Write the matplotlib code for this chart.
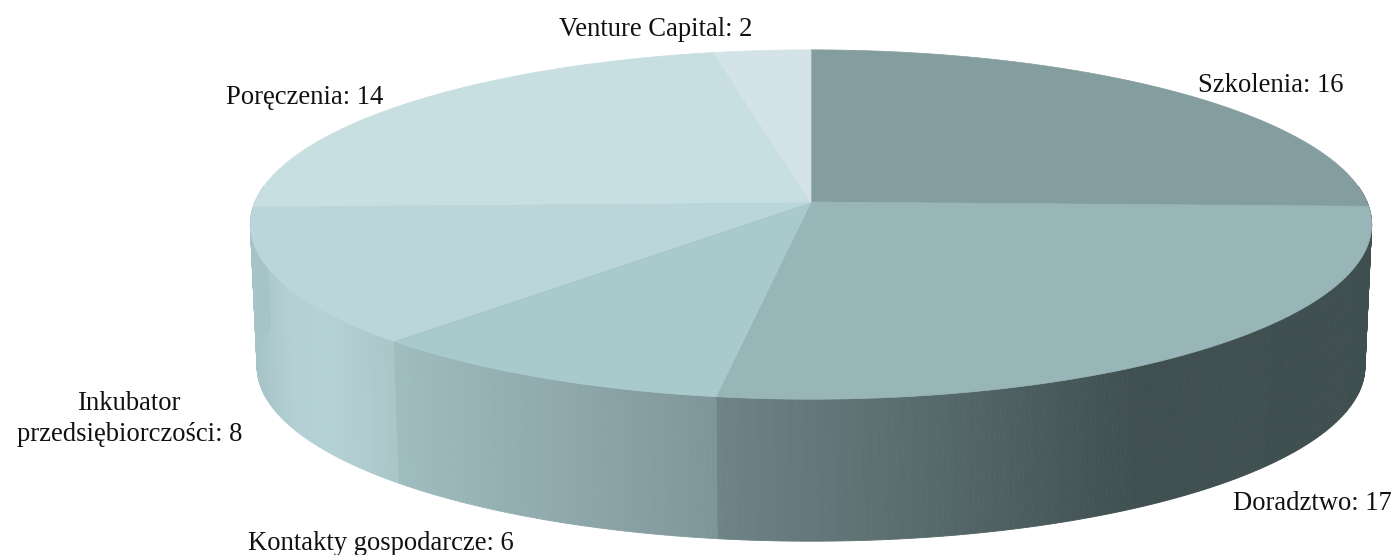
import numpy as np
import matplotlib
matplotlib.use("Agg")
import matplotlib.pyplot as plt
from matplotlib.colors import to_rgb

categories = ["Szkolenia", "Doradztwo", "Kontakty gospodarcze",
              "Inkubator\nprzedsiębiorczości", "Poręczenia", "Venture Capital"]
values = [16, 17, 6, 8, 14, 2]
top_colors = ["#849D9F", "#98B5B8", "#A9CACD", "#BAD6DB", "#C8DFE2", "#D3E3E8"]

# side shading: (pixel x, colour) stops per slice
side_stops = [
    [(0, "#3F4E4F"), (1400, "#3F4E4F")],
    [(716, "#6E8486"), (1000, "#4F6163"), (1140, "#404F50"), (1400, "#3F4E4F")],
    [(390, "#A0BDC0"), (716, "#7F9699")],
    [(250, "#A6C3C7"), (290, "#B3D0D4"), (330, "#B4D1D5"), (390, "#AAC6C9")],
    [(0, "#A6C3C7"), (1400, "#A6C3C7")],
    [(0, "#A6C3C7"), (1400, "#A6C3C7")],
]

label_pos = [(1198, 83, "left"), (1233, 502, "left"), (248, 541, "left"),
             (130, 417, "center"), (226, 95, "left"), (656, 28, "center")]

CX, CY = 811, 202
W, A, C = 556, -145.7, 0.129
DEPTH, BOT_SCALE = 142, 0.988


def project(theta, bottom=False):
    x, y = np.sin(theta), np.cos(theta)
    den = 1 + C * y
    px, py = W * x / den, (CY + A * y) / den
    if bottom:
        return CX + px * BOT_SCALE, py + DEPTH
    return CX + px, py


def mix(stops, x):
    xs = [s[0] for s in stops]
    rgb = np.array([to_rgb(s[1]) for s in stops])
    return [float(np.interp(x, xs, rgb[:, i])) for i in range(3)]


fig = plt.figure(figsize=(13.96, 5.55), dpi=100)
ax = fig.add_axes([0, 0, 1, 1])
ax.set_xlim(0, 1396)
ax.set_ylim(555, 0)
ax.axis("off")

edges = np.concatenate([[0], np.cumsum(values)]) / sum(values) * 2 * np.pi

# side walls (front half only, thin strips for the gradient)
for i in range(len(values)):
    a0, a1 = max(edges[i], np.pi * 0.47), min(edges[i + 1], np.pi * 1.53)
    if a1 <= a0:
        continue
    th = np.linspace(a0, a1, max(int((a1 - a0) * 120), 2))
    xt, yt = project(th)
    xb, yb = project(th, True)
    for j in range(len(th) - 1):
        col = mix(side_stops[i], (xt[j] + xt[j + 1]) / 2)
        ax.fill([xt[j], xt[j + 1], xb[j + 1], xb[j]],
                [yt[j], yt[j + 1], yb[j + 1], yb[j]],
                color=col, lw=0.6, zorder=2)

# top faces
for i in range(len(values)):
    th = np.linspace(edges[i], edges[i + 1], 200)
    xt, yt = project(th)
    ax.fill(np.r_[CX, xt], np.r_[CY, yt], color=top_colors[i], lw=0.5, zorder=3)

for cat, val, (x, y, ha) in zip(categories, values, label_pos):
    ax.text(x, y + 2, f"{cat}: {val}", family="Liberation Serif", fontsize=19.2,
            color="#111111", ha=ha, va="center", linespacing=1.3,
            multialignment="center", zorder=5)

fig.savefig("out.png", dpi=100)
